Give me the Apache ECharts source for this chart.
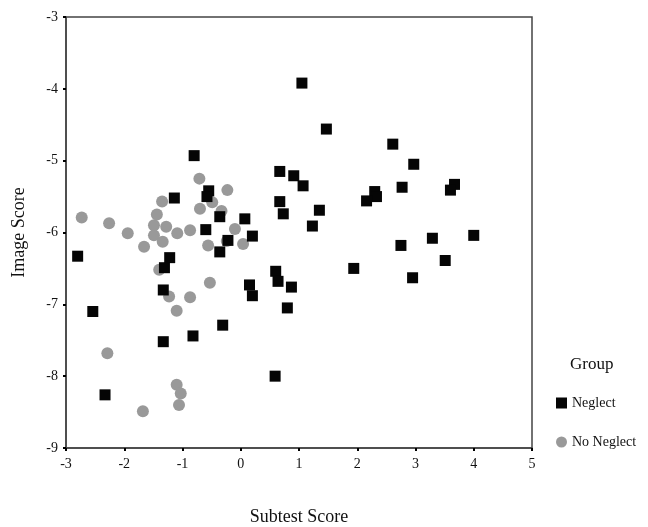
<!DOCTYPE html>
<html>
<head>
<meta charset="utf-8">
<script src="https://cdn.jsdelivr.net/npm/echarts@6/dist/echarts.min.js"></script>
<style>
  html, body { margin: 0; padding: 0; background: #fff; }
  #chart { width: 648px; height: 527px; }
</style>
</head>
<body>
<div id="chart"></div>
<script>
// 忽视组 (Neglect) 的点: subtest -> image
var neglectX = [-2.80, -2.54, -2.33, -0.80, -1.14, -0.55, -0.58, -0.36, -0.60, -0.36,
                -0.22, 0.07, 0.20, -1.22, -1.31, -1.33, 0.15, 0.20, 0.67, 0.67,
                0.73, 0.60, 0.64, 1.05, 1.47, 2.61, 2.97, 0.91, 1.07, 2.30,
                2.33, 2.16, 2.77, 3.67, 3.60, 1.35, 1.23, 3.29, 4.00, 2.75,
                3.51, 1.94, 2.95, 0.87, 0.80, 0.59, -1.33, -0.82, -0.31];
var neglectY = [-6.33, -7.10, -8.26, -4.93, -5.52, -5.42, -5.50, -5.78, -5.96, -6.27,
                -6.11, -5.81, -6.05, -6.35, -6.49, -6.80, -6.73, -6.88, -5.15, -5.57,
                -5.74, -6.54, -6.68, -3.92, -4.56, -4.77, -5.05, -5.21, -5.35, -5.43,
                -5.50, -5.56, -5.37, -5.33, -5.41, -5.69, -5.91, -6.08, -6.04, -6.18,
                -6.39, -6.50, -6.63, -6.76, -7.05, -8.00, -7.52, -7.44, -7.29];

// 非忽视组 (No Neglect)
var noNeglectX = [-2.73, -2.26, -1.94, -1.66, -1.49, -1.49, -1.44, -1.35, -1.28, -1.34,
                  -1.09, -0.87, -0.71, -0.70, -0.49, -0.23, -0.33, -0.10, -0.56, -0.24,
                  0.04, -1.40, -0.53, -1.23, -0.87, -1.10, -2.29, -1.10, -1.03, -1.06, -1.68];
var noNeglectY = [-5.79, -5.87, -6.01, -6.20, -6.04, -5.90, -5.75, -5.57, -5.92, -6.13,
                  -6.01, -5.97, -5.25, -5.67, -5.58, -5.41, -5.70, -5.95, -6.18, -6.12,
                  -6.16, -6.52, -6.70, -6.89, -6.90, -7.09, -7.68, -8.12, -8.24, -8.40, -8.49];

function pairs(xs, ys) {
    var out = [];
    for (var i = 0; i < xs.length; i++) {
        out.push([xs[i], ys[i]]);
    }
    return out;
}

var serif = 'Liberation Serif';
var myChart = echarts.init(document.getElementById('chart'));

var option = {
    backgroundColor: '#fff',
    textStyle: { fontFamily: serif, color: '#111' },
    title: {
        text: 'Group',
        left: 565,
        top: 351,
        textStyle: { fontFamily: serif, fontSize: 17, fontWeight: 'normal', color: '#111' }
    },
    legend: {
        data: ['Neglect', 'No Neglect'],
        orient: 'vertical',
        left: 551,
        top: 391,
        itemGap: 25,
        itemWidth: 11,
        itemHeight: 11,
        textStyle: { fontFamily: serif, fontSize: 14, color: '#111' }
    },
    grid: {
        left: 66,
        top: 17,
        right: 116,
        bottom: 79,
        outerBoundsMode: 'none',
        containLabel: false,
        show: true,
        borderColor: '#444',
        borderWidth: 1.5,
        backgroundColor: 'transparent'
    },
    xAxis: {
        type: 'value',
        min: -3,
        max: 5,
        interval: 1,
        name: 'Subtest Score',
        nameLocation: 'middle',
        nameGap: 60,
        nameTextStyle: { fontFamily: serif, fontSize: 18, color: '#111' },
        splitLine: { show: false },
        axisLine: { onZero: false, lineStyle: { color: '#444', width: 1.5 } },
        axisTick: { length: 3, lineStyle: { color: '#000', width: 2 } },
        axisLabel: { fontFamily: serif, fontSize: 14, color: '#111', margin: 9 }
    },
    yAxis: {
        type: 'value',
        min: -9,
        max: -3,
        interval: 1,
        name: 'Image Score',
        nameLocation: 'middle',
        nameGap: 38,
        nameTextStyle: { fontFamily: serif, fontSize: 18, color: '#111' },
        splitLine: { show: false },
        axisLine: { onZero: false, lineStyle: { color: '#444', width: 1.5 } },
        axisTick: { length: 3, lineStyle: { color: '#000', width: 2 } },
        axisLabel: { fontFamily: serif, fontSize: 14, color: '#111', margin: 8 }
    },
    series: [
        {
            name: 'Neglect',
            type: 'scatter',
            symbol: 'rect',
            symbolSize: 11,
            itemStyle: { color: '#050505', opacity: 1 },
            data: pairs(neglectX, neglectY),
            z: 3
        },
        {
            name: 'No Neglect',
            type: 'scatter',
            symbol: 'circle',
            symbolSize: 12,
            itemStyle: { color: '#999999', opacity: 1 },
            data: pairs(noNeglectX, noNeglectY),
            z: 2
        }
    ]
};
myChart.setOption(option);
</script>
</body>
</html>
